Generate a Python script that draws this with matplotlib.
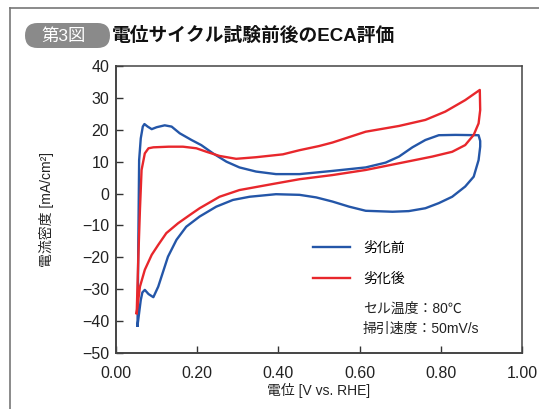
import matplotlib
matplotlib.use("Agg")
import matplotlib.pyplot as plt
from matplotlib.patches import FancyBboxPatch
from matplotlib.lines import Line2D

plt.rcParams['font.family'] = ['Liberation Sans', 'Noto Sans CJK JP', 'DejaVu Sans']

# CV loop before degradation (potential V, current density mA/cm2)
before_v = [0.053, 0.054, 0.055, 0.057, 0.061, 0.066, 0.070, 0.078, 0.088, 0.100,
            0.120, 0.137, 0.157, 0.186, 0.210, 0.239, 0.272, 0.304, 0.345, 0.394,
            0.452, 0.533, 0.615, 0.664, 0.697, 0.730, 0.762, 0.795, 0.836, 0.893,
            0.897, 0.897, 0.893, 0.881, 0.860, 0.828, 0.795, 0.762, 0.721, 0.681,
            0.615, 0.574, 0.533, 0.493, 0.452, 0.394, 0.329, 0.288, 0.247, 0.206,
            0.173, 0.149, 0.128, 0.104, 0.092, 0.080, 0.071, 0.065, 0.061, 0.053]
before_i = [-41.4, -30.0, -15.0, 10.5, 17.3, 21.0, 21.8, 21.0, 20.2, 20.8,
            21.4, 21.0, 18.9, 16.8, 15.2, 12.6, 10.0, 8.2, 6.9, 6.1,
            6.1, 7.1, 8.2, 9.7, 11.6, 14.5, 16.8, 18.3, 18.4, 18.3,
            16.5, 14.7, 10.5, 5.3, 2.2, -1.0, -3.0, -4.6, -5.5, -5.7,
            -5.4, -4.1, -2.5, -1.2, -0.4, -0.2, -1.0, -2.0, -4.1, -7.2,
            -10.4, -14.5, -19.8, -29.2, -32.5, -31.5, -30.2, -31.0, -33.4, -41.4]

# CV loop after degradation
after_v = [0.051, 0.055, 0.059, 0.063, 0.071, 0.080, 0.092, 0.130, 0.165, 0.198,
           0.223, 0.255, 0.296, 0.345, 0.411, 0.452, 0.500, 0.533, 0.615, 0.697,
           0.762, 0.811, 0.860, 0.896, 0.897, 0.893, 0.881, 0.860, 0.828, 0.779,
           0.697, 0.615, 0.533, 0.452, 0.386, 0.304, 0.255, 0.206, 0.182, 0.153,
           0.124, 0.104, 0.088, 0.071, 0.059, 0.051]
after_i = [-37.5, -20.0, -5.0, 7.4, 12.6, 14.2, 14.5, 14.7, 14.7, 14.2,
           13.1, 11.8, 10.9, 11.4, 12.3, 13.6, 14.9, 16.0, 19.4, 21.2,
           23.1, 25.7, 29.3, 32.5, 26.2, 22.0, 18.4, 15.2, 13.1, 11.6,
           9.5, 7.4, 5.8, 4.5, 3.0, 1.1, -1.0, -4.6, -6.7, -9.3,
           -12.4, -16.1, -19.2, -23.9, -29.2, -37.5]

x_ticks = [0.0, 0.2, 0.4, 0.6, 0.8, 1.0]
y_ticks = [-50, -40, -30, -20, -10, 0, 10, 20, 30, 40]

blue = '#2456a8'
red = '#e8272c'

fig = plt.figure(figsize=(5.39, 4.09), dpi=100)
ax = fig.add_axes([0.2152, 0.1369, 0.7533, 0.7017])

ax.plot(before_v, before_i, color=blue, lw=1.7, label='劣化前')
ax.plot(after_v, after_i, color=red, lw=1.7, label='劣化後')

ax.set_xlim(0, 1.0)
ax.set_ylim(-50, 40)
ax.set_xticks(x_ticks)
ax.set_xticklabels(['%.2f' % v for v in x_ticks])
ax.set_yticks(y_ticks)
ax.tick_params(direction='in', length=5, width=1, color='#333333',
               labelsize=11.5, labelcolor='#222222')
ax.tick_params(axis='x', pad=9)
ax.tick_params(axis='y', pad=5)
for s in ax.spines.values():
    s.set_color('#444444')
    s.set_linewidth(1.1)
ax.spines['left'].set_linewidth(1.4)
ax.spines['bottom'].set_linewidth(1.4)

ax.set_xlabel('電位 [V vs. RHE]', fontsize=10, color='#222222', labelpad=2)
ax.set_ylabel('電流密度 [mA/cm²]', fontsize=10, color='#222222', labelpad=20)

leg = ax.legend(loc='upper left', bbox_to_anchor=(0.485, 0.39), frameon=False,
                borderaxespad=0, borderpad=0, fontsize=10, handlelength=2.65,
                handletextpad=0.95, labelspacing=1.2)

fig.text(0.6735, 0.2445, 'セル温度：80℃', fontsize=10, va='center', color='#222222')
fig.text(0.6735, 0.1956, '掃引速度：50mV/s', fontsize=10, va='center', color='#222222')

# heading: grey pill badge and title
badge = FancyBboxPatch((0.25, 3.61), 0.85, 0.25,
                       boxstyle='round,pad=0,rounding_size=0.125',
                       transform=fig.dpi_scale_trans, facecolor='#8a8a8a',
                       edgecolor='none')
fig.patches.append(badge)
fig.text(64 / 539, 1 - 36 / 409, '第3図', fontsize=12.5, color='white',
         ha='center', va='center')
fig.text(112 / 539, 1 - 36 / 409, '電位サイクル試験前後のECA評価', fontsize=13.5,
         fontweight='bold', color='#111111', ha='left', va='center')

# outer frame (left and top edges)
frame_x = 10 / 539
frame_y = 1 - 7.5 / 409
fig.add_artist(Line2D([frame_x, frame_x], [0, frame_y], color='#777777', lw=1.2))
fig.add_artist(Line2D([frame_x, 1], [frame_y, frame_y], color='#777777', lw=1.2))

fig.savefig('out.png', dpi=100)
